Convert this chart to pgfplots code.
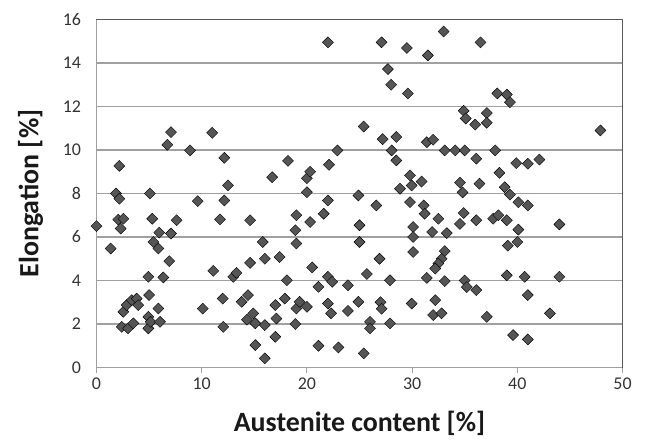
\documentclass[border=0pt]{standalone}
\usepackage{fontspec}
\setmainfont{Carlito}
\usepackage{pgfplots}
\pgfplotsset{compat=1.18}
\definecolor{mk}{RGB}{85,85,85}
\definecolor{gridc}{RGB}{160,160,160}
\definecolor{framec}{RGB}{90,90,90}
\begin{document}
\begin{tikzpicture}
\begin{axis}[
  scale only axis, width=526bp, height=348bp,
  xmin=0, xmax=50, ymin=0, ymax=16,
  xtick={0,10,...,50}, ytick={0,2,...,16},
  axis x line*=bottom, axis y line*=left,
  axis line style={gridc, line width=1.2bp},
  ymajorgrids, major grid style={gridc, line width=1.2bp},
  tick align=outside, major tick length=5bp,
  xtick style={gridc, line width=1bp},
  ytick style={draw=none},
  tick label style={font=\fontsize{18}{21}\selectfont, text=black!80},
  /pgf/number format/assume math mode=true,
  yticklabel style={xshift=-7bp},
  xticklabel style={yshift=-2bp},
  xlabel={\textbf{Austenite content [\%]}},
  ylabel={\textbf{Elongation [\%]}},
  label style={font=\fontsize{28}{32}\selectfont, text=black!90},
  xlabel style={at={(axis description cs:0.5,-0.1594)}, anchor=center},
  ylabel style={at={(axis description cs:-0.1255,0.5)}, anchor=center},
  clip=false,
]
\addplot[only marks, mark=square*, mark size=3.9bp, mark options={rotate=45, fill=mk, draw=none}] table {
x y
0.0 6.5
1.35 5.47
1.85 8.0
2.17 7.76
2.17 9.27
2.07 6.8
2.55 6.84
2.3 6.39
2.4 1.87
3.0 1.8
3.5 2.03
2.55 2.56
2.87 2.87
3.35 3.1
3.82 3.17
3.97 2.87
5.0 3.33
4.93 2.33
4.93 1.8
5.15 2.1
5.88 2.71
6.04 2.1
4.93 4.17
6.35 4.14
6.92 4.89
5.4 5.77
5.88 5.47
5.97 6.2
7.08 6.16
7.62 6.77
5.3 6.84
5.08 8.0
6.73 10.24
7.08 10.82
8.89 9.98
9.62 7.65
10.1 2.71
11.0 10.79
11.1 4.44
11.74 6.81
12.0 3.17
12.05 1.87
12.15 7.68
12.15 9.64
12.5 8.37
13.0 4.17
13.3 4.35
13.8 3.02
14.4 3.33
14.6 4.81
14.6 6.77
14.3 2.2
14.9 2.49
15.1 2.03
15.1 1.03
15.8 5.77
16.0 5.0
16.0 1.95
16.0 0.42
16.7 8.75
17.0 1.41
17.0 2.87
17.1 2.25
17.4 5.08
17.9 3.17
18.1 4.01
18.2 9.5
18.9 2.0
19.0 7.0
18.9 6.31
19.0 5.7
19.0 2.71
19.3 3.02
20.0 2.79
20.0 8.06
20.0 8.7
20.3 9.0
20.3 6.69
20.5 4.6
21.1 3.71
21.1 1.0
21.6 7.07
22.0 7.68
22.0 14.95
22.1 9.32
22.9 9.98
22.0 4.17
22.4 3.94
22.0 2.94
22.3 2.49
23.0 0.92
23.9 3.78
23.9 2.6
24.9 3.02
24.9 7.91
25.0 6.54
25.0 5.77
25.4 11.08
25.4 0.65
25.7 4.3
26.0 2.1
26.0 1.8
26.6 7.45
26.9 5.0
27.0 3.0
27.1 2.7
27.1 14.95
27.2 10.5
27.7 13.72
27.9 4.01
27.9 2.03
28.0 13.0
28.06 9.98
28.5 10.6
28.5 9.52
28.85 8.22
29.5 14.69
29.6 12.6
29.8 8.83
29.96 8.37
30.9 8.55
29.8 7.6
31.1 7.45
31.2 7.07
30.1 6.46
30.1 6.0
30.1 5.31
29.96 2.94
31.4 10.36
32.0 10.47
31.5 14.35
33.0 15.45
31.9 6.23
32.5 6.84
31.4 4.12
32.2 3.1
32.0 2.41
32.8 2.49
33.3 6.18
33.1 5.35
32.8 5.0
32.5 4.78
32.2 4.55
33.1 3.97
33.1 9.98
34.1 9.98
35.0 9.98
36.1 9.6
37.9 9.98
34.9 11.8
35.1 11.45
36.0 11.17
37.1 11.7
37.1 11.25
36.5 14.95
38.1 12.6
39.0 12.55
39.3 12.2
38.3 8.95
39.9 9.4
41.0 9.37
42.1 9.56
47.9 10.9
34.55 8.5
34.8 8.05
36.4 8.45
38.8 8.29
39.3 7.95
40.1 7.6
41.0 7.45
34.9 7.1
34.55 6.6
36.1 6.77
37.7 6.84
38.2 7.0
39.0 6.77
44.0 6.58
40.1 6.34
40.0 5.77
39.1 5.6
35.0 4.0
35.2 3.7
36.1 3.56
39.0 4.24
40.7 4.17
44.0 4.17
41.0 3.33
37.1 2.33
43.1 2.49
39.6 1.49
41.0 1.29
};
\draw[framec, line width=1.3bp] (rel axis cs:0,1) -- (rel axis cs:1,1) -- (rel axis cs:1,0);
\end{axis}
\pgfresetboundingbox
\path[use as bounding box] (-96.5bp,-74.5bp) rectangle (553.5bp,367.5bp);
\end{tikzpicture}
\end{document}
